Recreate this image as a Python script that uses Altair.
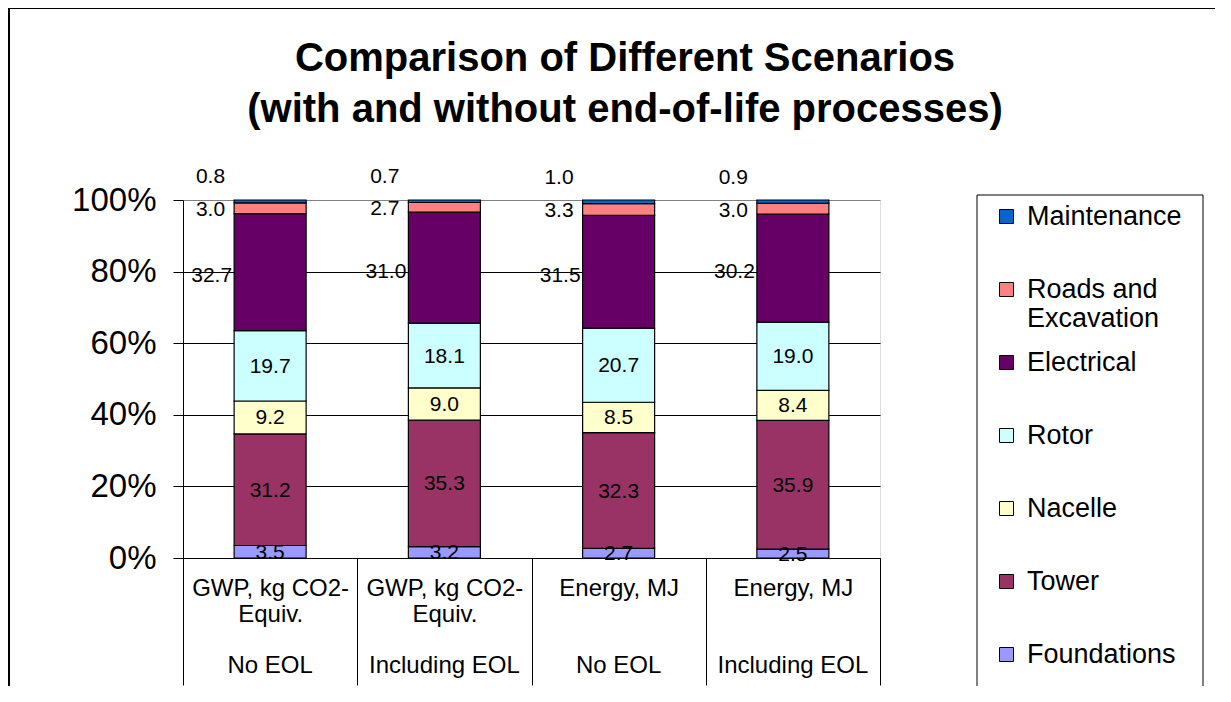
import json
import altair as alt
import pandas as pd

FONT = "Liberation Sans"
NB = "\u00a0"

# ---- data -----------------------------------------------------------------
title_lines = ["Comparison of Different Scenarios",
               "(with and without end-of-life processes)"]
cat_top = ["GWP, kg CO2-Equiv.", "GWP, kg CO2-Equiv.", "Energy, MJ", "Energy, MJ"]
cat_bottom = ["No EOL", "Including EOL", "No EOL", "Including EOL"]
x_top_lines = [
    ["GWP, kg CO2-", "Equiv."],
    ["GWP, kg CO2-", "Equiv."],
    ["Energy, MJ"],
    ["Energy, MJ"],
]

series = ["Foundations", "Tower", "Nacelle", "Rotor", "Electrical",
          "Roads and Excavation", "Maintenance"]
foundations = [3.5, 3.2, 2.7, 2.5]
tower = [31.2, 35.3, 32.3, 35.9]
nacelle = [9.2, 9.0, 8.5, 8.4]
rotor = [19.7, 18.1, 20.7, 19.0]
electrical = [32.7, 31.0, 31.5, 30.2]
roads = [3.0, 2.7, 3.3, 3.0]
maintenance = [0.8, 0.7, 1.0, 0.9]
series_values = [foundations, tower, nacelle, rotor, electrical, roads, maintenance]
series_colors = ["#9999FF", "#993366", "#FFFFCC", "#CCFFFF", "#660066",
                 "#FF8080", "#0066CC"]

y_ticks = [0, 0.2, 0.4, 0.6, 0.8, 1.0]

keys = [f"{t}|{b}" for t, b in zip(cat_top, cat_bottom)]

rows = []
for si, (name, vals) in enumerate(zip(series, series_values)):
    for ci, k in enumerate(keys):
        rows.append({"cat": k, "series": name, "order": si, "value": vals[ci]})
df = pd.DataFrame(rows)
df_cat = pd.DataFrame({"cat": keys, "bottom": cat_bottom})

legend_domain = series[::-1]
legend_range = series_colors[::-1]

label_expr = (
    f"{json.dumps(x_top_lines)}[indexof({json.dumps(keys)}, datum.value)]"
)

W, H = 697, 358

x_enc = alt.X(
    "cat:N",
    sort=keys,
    scale=alt.Scale(paddingInner=0, paddingOuter=0),
    axis=alt.Axis(
        title=None,
        labelExpr=label_expr,
        labelAngle=0,
        labelFont=FONT,
        labelFontSize=24,
        labelLineHeight=26,
        labelBaseline="top",
        labelColor="black",
        labelOverlap=False,
        labelLimit=400,
        tickBand="extent",
        tickSize=127,
        tickColor="black",
        tickWidth=1,
        domainColor="black",
        domainWidth=1,
        labelPadding=-109,
    ),
)

y_axis = alt.Axis(
    title=None,
    values=y_ticks,
    format=".0%",
    labelFont=FONT,
    labelFontSize=33,
    labelColor="black",
    labelPadding=17,
    tickSize=10,
    tickColor="black",
    domainColor="black",
    gridColor=alt.condition("datum.value == 1", alt.value("#808080"), alt.value("black")),
    gridWidth=1,
)

base = alt.Chart(df).transform_stack(
    stack="value",
    groupby=["cat"],
    as_=["y0", "y1"],
    offset="normalize",
    sort=[alt.SortField("order", order="ascending")],
).transform_calculate(mid="(datum.y0 + datum.y1) / 2")

bars = base.mark_bar(width=72, stroke="black", strokeWidth=1.2).encode(
    x=x_enc,
    y=alt.Y("y0:Q", scale=alt.Scale(domain=[0, 1], nice=False), axis=y_axis),
    y2="y1:Q",
    color=alt.Color(
        "series:N",
        scale=alt.Scale(domain=legend_domain, range=legend_range),
        legend=alt.Legend(
            title=None,
            orient="none",
            legendX=810,
            legendY=3,
            padding=0,
            symbolType="square",
            symbolSize=196,
            symbolStrokeColor="black",
            symbolStrokeWidth=1,
            symbolOpacity=1,
            labelFont=FONT,
            labelFontSize=27,
            labelColor="black",
            labelOffset=7,
            labelLimit=400,
            rowPadding=16,
            labelExpr=(
                "datum.label == 'Roads and Excavation' ? ['Roads and', 'Excavation'] "
                f": [datum.label, '{NB}']"
            ),
        ),
    ),
)


def labels(names, **kw):
    return base.transform_filter(
        alt.FieldOneOfPredicate(field="series", oneOf=names)
    ).mark_text(font=FONT, fontSize=21, color="black", baseline="middle", **kw).encode(
        x=alt.X("cat:N", sort=keys),
        y="mid:Q",
        text=alt.Text("value:Q", format=".1f"),
    )


inside = labels(["Foundations", "Tower", "Nacelle", "Rotor"], dy=1)
elec_lbl = labels(["Electrical"], align="right", dx=-38, dy=4)
roads_lbl = labels(["Roads and Excavation"], align="right", dx=-45, dy=2)
maint_lbl = labels(["Maintenance"], align="right", dx=-45, dy=-24)

bottom_lbl = alt.Chart(df_cat).mark_text(
    font=FONT, fontSize=24, color="black", baseline="middle"
).encode(
    x=alt.X("cat:N", sort=keys),
    y=alt.value(H + 108),
    text="bottom:N",
)

one = pd.DataFrame({"k": [0]})
frame = alt.Chart(one).mark_rect(fill="transparent", stroke="black", strokeWidth=2).encode(
    x=alt.value(-174), x2=alt.value(1200), y=alt.value(-192), y2=alt.value(700)
)
legend_box = alt.Chart(one).mark_rect(fill="transparent", stroke="black", strokeWidth=1).encode(
    x=alt.value(794), x2=alt.value(1020), y=alt.value(-5), y2=alt.value(700)
)
title1 = alt.Chart(one).mark_text(
    text=title_lines[0], font=FONT, fontSize=40, fontWeight="bold", color="black",
    align="center", baseline="alphabetic",
).encode(x=alt.value(442), y=alt.value(-129))
title2 = alt.Chart(one).mark_text(
    text=title_lines[1], font=FONT, fontSize=40, fontWeight="bold", color="black",
    align="center", baseline="alphabetic",
).encode(x=alt.value(442), y=alt.value(-78))

chart = alt.layer(
    frame, legend_box, title1, title2, bars, inside, elec_lbl, roads_lbl, maint_lbl,
    bottom_lbl,
).properties(
    width=W,
    height=H,
    autosize=alt.AutoSizeParams(type="none"),
    padding={"left": 175, "top": 192, "right": 335, "bottom": 128},
).configure_view(stroke="#808080", strokeWidth=1.5).configure(background="white")

chart.save("out.html", embed_options={"renderer": "svg", "actions": False})
